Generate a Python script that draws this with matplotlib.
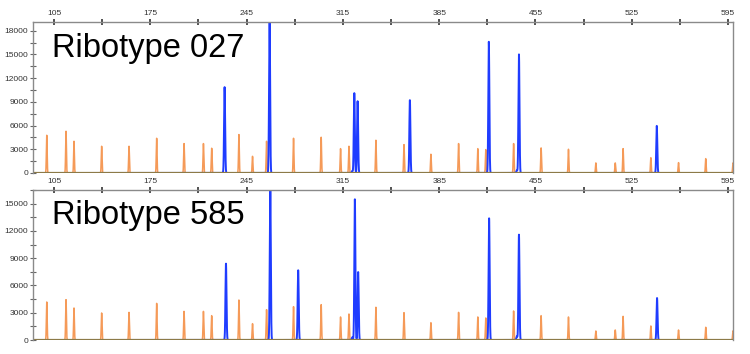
import numpy as np
import matplotlib.pyplot as plt
from matplotlib.ticker import MultipleLocator, FixedLocator

# size standard peaks (orange) - positions in bp, heights in RFU
std_pos = [99.7, 113.7, 119.5, 139.6, 159.5, 179.6, 199.5, 213.6, 219.6, 239.4,
           249.3, 259.5, 279.1, 299.2, 313.3, 319.4, 339.0, 359.4, 379.0, 399.1,
           413.1, 418.9, 439.1, 459.1, 479.0, 498.9, 513.0, 518.7, 538.9, 559.0,
           578.8, 598.6]
std_h_027 = [4770, 5280, 4010, 3380, 3380, 4390, 3720, 3720, 3130, 4860,
             2110, 4010, 4390, 4520, 3080, 3380, 4140, 3590, 2370, 3720,
             3080, 2960, 3720, 3170, 3000, 1270, 1270, 3080, 1940, 1310,
             1820, 1270]
std_h_585 = [4180, 4440, 3520, 2970, 3040, 4030, 3150, 3150, 2680, 4400,
             1800, 3340, 3670, 3890, 2530, 2860, 3600, 3010, 1910, 3040,
             2530, 2420, 3190, 2680, 2530, 990, 1100, 2600, 1540, 1100,
             1400, 1000]

# sample fragments (blue)
frag_pos_027 = [229.0, 261.7, 321.8, 323.3, 325.7, 363.7, 421.1, 441.5, 443.0, 543.2]
frag_h_027 = [10860, 19500, 250, 10100, 9080, 9210, 16600, 350, 15000, 5960]
frag_pos_585 = [230.0, 262.2, 282.5, 321.8, 323.7, 326.1, 421.3, 441.5, 443.0, 543.4]
frag_h_585 = [8400, 17000, 7670, 300, 15480, 7480, 13390, 400, 11590, 4620]

panels = [
    ("Ribotype 027", std_h_027, frag_pos_027, frag_h_027, 19100, 0.768),
    ("Ribotype 585", std_h_585, frag_pos_585, frag_h_585, 16500, 0.775),
]

orange = "#f59a58"
blue = "#1f3cff"
base = "#8c7a48"
spine = "#8a8a8a"

x = np.arange(89.0, 600.0, 0.02)


def trace(pos, heights, sigma):
    y = np.zeros_like(x)
    for p, h in zip(pos, heights):
        y += h * np.exp(-0.5 * ((x - p) / sigma) ** 2)
    return y


fig = plt.figure(figsize=(7.5, 3.54), dpi=100)
plt.rcParams['font.family'] = ['Liberation Sans', 'DejaVu Sans']
rects = [[0.044, 0.5113, 0.9333, 0.4266], [0.044, 0.0395, 0.9333, 0.4237]]

for rect, (label, std_h, fpos, fh, ytop, ty) in zip(rects, panels):
    ax = fig.add_axes(rect)
    ax.plot(x, trace(std_pos, std_h, 0.28), color=orange, lw=1.1)
    ax.plot(x, trace(fpos, fh, 0.38), color=blue, lw=1.4)
    ax.axhline(0, color=base, lw=1.6)
    ax.set_xlim(89.7, 598.6)
    ax.set_ylim(0, ytop)

    ax.xaxis.set_major_locator(FixedLocator(np.arange(105, 600, 70)))
    ax.xaxis.set_minor_locator(FixedLocator(np.arange(140, 600, 70)))
    ax.yaxis.set_major_locator(MultipleLocator(3000))
    ax.yaxis.set_minor_locator(MultipleLocator(1500))
    ax.xaxis.tick_top()
    ax.tick_params(axis='x', which='both', direction='inout', length=5,
                   width=1.2, color='#333333', labelsize=6, pad=1,
                   labelcolor='#333333')
    ax.tick_params(axis='y', which='both', direction='inout', length=5,
                   width=0.8, color='#666666', labelsize=6, pad=1,
                   labelcolor='#333333')

    for s in ['top', 'left', 'right']:
        ax.spines[s].set_color(spine)
        ax.spines[s].set_linewidth(1.0)
    ax.spines['bottom'].set_visible(False)

    ax.text(0.027, ty, label, transform=ax.transAxes, fontsize=23.5,
            va='baseline', ha='left', color='black')

fig.savefig("out.png", dpi=100)
